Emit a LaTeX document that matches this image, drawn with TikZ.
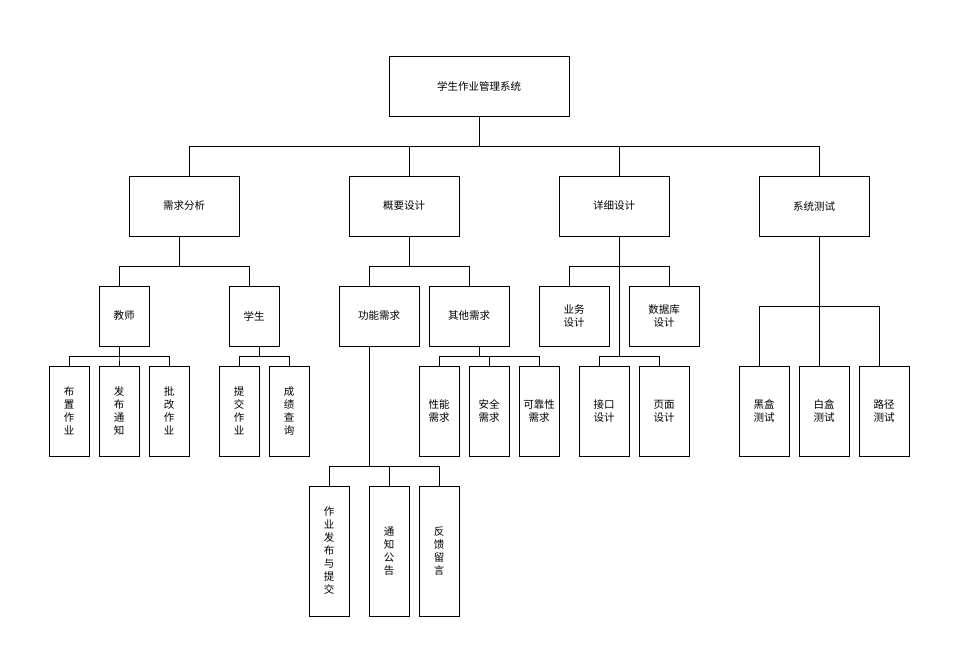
\documentclass[tikz,border=0pt]{standalone}
\usepackage{fontspec}
\setmainfont{Noto Sans CJK SC}
\begin{document}
\begin{tikzpicture}[x=1pt,y=-1pt,
  box/.style={draw,line width=0.7pt,inner sep=0pt,align=center,font=\fontsize{10.5pt}{13pt}\selectfont},
  ln/.style={line width=0.7pt}]
\useasboundingbox (0,0) rectangle (960,660);
\newcommand{\bx}[7]{\node[box,minimum width=#4-#2,minimum height=#5-#3] (#1) at ({(#2+#4)/2},{(#3+#5)/2}) {#6};}
\bx{root}{389}{56}{569}{116}{学生作业管理系统}{}
\bx{a}{129}{176}{239}{236}{需求分析}{}
\bx{b}{349}{176}{459}{236}{概要设计}{}
\bx{c}{559}{176}{669}{236}{详细设计}{}
\bx{d}{759}{176}{869}{236}{系统测试}{}
\bx{a1}{99}{286}{149}{346}{教师}{}
\bx{a2}{229}{286}{279}{346}{学生}{}
\bx{a11}{49}{366}{89}{456}{布\\置\\作\\业}{}
\bx{a12}{99}{366}{139}{456}{发\\布\\通\\知}{}
\bx{a13}{149}{366}{189}{456}{批\\改\\作\\业}{}
\bx{a21}{219}{366}{259}{456}{提\\交\\作\\业}{}
\bx{a22}{269}{366}{309}{456}{成\\绩\\查\\询}{}
\bx{b1}{339}{286}{419}{346}{功能需求}{}
\bx{b2}{429}{286}{509}{346}{其他需求}{}
\bx{b11}{309}{486}{349}{616}{作\\业\\发\\布\\与\\提\\交}{}
\bx{b12}{369}{486}{409}{616}{通\\知\\公\\告}{}
\bx{b13}{419}{486}{459}{616}{反\\馈\\留\\言}{}
\bx{b21}{419}{366}{459}{456}{性能\\需求}{}
\bx{b22}{469}{366}{509}{456}{安全\\需求}{}
\bx{b23}{519}{366}{559}{456}{可靠性\\需求}{}
\bx{c1}{539}{286}{609}{346}{业务\\设计}{}
\bx{c2}{629}{286}{699}{346}{数据库\\设计}{}
\bx{c3}{579}{366}{629}{456}{接口\\设计}{}
\bx{c4}{639}{366}{689}{456}{页面\\设计}{}
\bx{d1}{739}{366}{789}{456}{黑盒\\测试}{}
\bx{d2}{799}{366}{849}{456}{白盒\\测试}{}
\bx{d3}{859}{366}{909}{456}{路径\\测试}{}
% edges: parent, parent xshift, drop, child, child xshift
\newcommand{\ed}[5]{\draw[ln] ([xshift=#2]#1.south) -- ++(0,#3) -| ([xshift=#5]#4.north);}
\ed{root}{0}{30}{a}{5}\ed{root}{0}{30}{b}{5}\ed{root}{0}{30}{c}{5}\ed{root}{0}{30}{d}{5}
\ed{a}{-5}{30}{a1}{-5}\ed{a}{-5}{30}{a2}{-5}
\ed{a1}{-5}{10}{a11}{0}\ed{a1}{-5}{10}{a12}{0}\ed{a1}{-5}{10}{a13}{0}
\ed{a2}{5}{10}{a21}{0}\ed{a2}{5}{10}{a22}{0}
\ed{b}{5}{30}{b1}{-10}\ed{b}{5}{30}{b2}{0}
\ed{b1}{-10}{120}{b11}{0}\ed{b1}{-10}{120}{b12}{0}\ed{b1}{-10}{120}{b13}{0}
\ed{b2}{10}{10}{b21}{0}\ed{b2}{10}{10}{b22}{0}\ed{b2}{10}{10}{b23}{0}
\ed{c}{5}{30}{c1}{-5}\ed{c}{5}{30}{c2}{5}
\draw[ln] ([xshift=5]c.south) -- ++(0,120) coordinate (cb) -| ([xshift=-5]c3.north);
\draw[ln] (cb) -| ([xshift=-5]c4.north);
\ed{d}{5}{70}{d1}{-5}\ed{d}{5}{70}{d2}{-5}\ed{d}{5}{70}{d3}{-5}
\end{tikzpicture}
\end{document}
